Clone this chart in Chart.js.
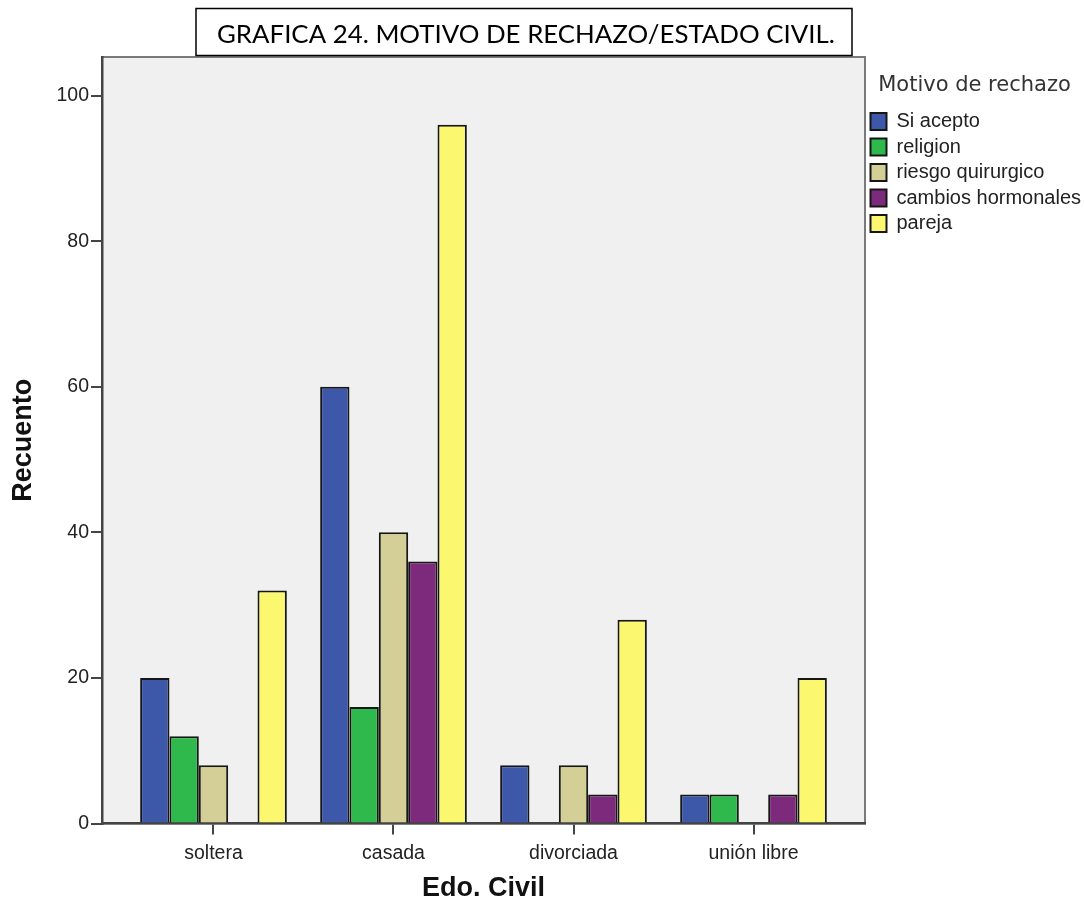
<!DOCTYPE html>
<html><head><meta charset="utf-8">
<script src="https://cdn.jsdelivr.net/npm/chart.js@4/dist/chart.umd.min.js"></script>
<style>html,body{margin:0;padding:0;background:#fff}#wrap{width:1084px;height:909px;position:relative}</style>
</head><body><div id="wrap"><canvas id="c"></canvas></div>
<script>
const categories = ['soltera', 'casada', 'divorciada', 'unión libre'];
const seriesNames = ['Si acepto', 'religion', 'riesgo quirurgico', 'cambios hormonales', 'pareja'];
const siAcepto = [20, 60, 8, 4];
const religion = [12, 16, 0, 4];
const riesgoQuirurgico = [8, 40, 8, 0];
const cambiosHormonales = [0, 36, 4, 4];
const pareja = [32, 96, 28, 20];
const yTickValues = [0, 20, 40, 60, 80, 100];
const chartTitle = 'GRAFICA 24. MOTIVO DE RECHAZO/ESTADO CIVIL.';
const xTitle = 'Edo. Civil';
const yTitle = 'Recuento';
const legendTitle = 'Motivo de rechazo';

const seriesValues = [siAcepto, religion, riesgoQuirurgico, cambiosHormonales, pareja];
const seriesColors = ['#3d58a8', '#2fb84b', '#d3cf97', '#7d2a7d', '#fbf76e'];

Chart.defaults.font.family = "'Liberation Sans', Arial, sans-serif";
Chart.defaults.color = '#222';

const plotBg = {
  id: 'plotBg',
  beforeDraw(chart) {
    const {ctx, chartArea: a} = chart;
    ctx.save();
    ctx.fillStyle = '#f0f0f0';
    ctx.fillRect(a.left, a.top, a.right - a.left, a.bottom - a.top);
    ctx.strokeStyle = '#7a7a7a';
    ctx.lineWidth = 2;
    ctx.strokeRect(a.left, a.top, a.right - a.left, a.bottom - a.top);
    ctx.restore();
  }
};

const titleBox = {
  id: 'titleBox',
  afterDraw(chart) {
    const ctx = chart.ctx;
    ctx.save();
    ctx.fillStyle = '#fff';
    ctx.fillRect(196, 8.5, 656, 47);
    ctx.strokeStyle = '#000';
    ctx.lineWidth = 1.5;
    ctx.strokeRect(196, 8.5, 656, 47);
    let size = 24;
    ctx.font = size + 'px Lato';
    const w = ctx.measureText(chartTitle).width;
    size = size * 618 / w;
    ctx.font = size + 'px Lato';
    ctx.fillStyle = '#000';
    ctx.textBaseline = 'middle';
    ctx.textAlign = 'left';
    ctx.fillText(chartTitle, 217, 35);
    ctx.restore();
  }
};

new Chart(document.getElementById('c'), {
  type: 'bar',
  data: {
    labels: categories.map((_, i) => i),
    datasets: seriesNames.map((name, k) => ({
      label: name,
      data: seriesValues[k],
      backgroundColor: seriesColors[k],
      borderColor: '#161616',
      borderWidth: 2,
      categoryPercentage: 0.815,
      barPercentage: 1
    }))
  },
  options: {
    responsive: true,
    maintainAspectRatio: false,
    devicePixelRatio: 1,
    animation: false,
    layout: {padding: {top: 57, left: 0, right: 0, bottom: 0}},
    plugins: {
      tooltip: {enabled: false},
      legend: {
        position: 'right',
        align: 'start',
        maxWidth: 219,
        title: {
          display: true,
          text: legendTitle,
          position: 'center',
          color: '#333',
          font: {family: "'DejaVu Sans'", size: 21},
          padding: {top: 18.5, bottom: 5.3}
        },
        labels: {
          boxWidth: 16,
          boxHeight: 17,
          padding: 5.5,
          color: '#222',
          font: {size: 20}
        }
      }
    },
    scales: {
      x: {
        type: 'linear',
        min: -0.6194,
        max: 3.6194,
        offset: false,
        afterFit: s => { s.height = 85.5; },
        afterBuildTicks: s => { s.ticks = categories.map((_, i) => ({value: i})); },
        grid: {drawOnChartArea: false, drawTicks: true, tickLength: 11, color: '#444', lineWidth: 2, offset: false},
        border: {display: true, color: '#444', width: 2.5},
        ticks: {
          padding: 7.5,
          font: {size: 19.5},
          color: '#222',
          maxRotation: 0,
          callback: v => categories[v]
        },
        title: {display: true, text: xTitle, font: {size: 27, weight: 'bold'}, color: '#111', padding: {top: 0, bottom: 4}}
      },
      y: {
        min: 0,
        max: 105.3,
        afterFit: s => { s.width = 102; },
        afterBuildTicks: s => { s.ticks = yTickValues.map(v => ({value: v})); },
        grid: {drawOnChartArea: false, drawTicks: true, tickLength: 11, color: '#444', lineWidth: 2},
        border: {display: true, color: '#444', width: 2.5},
        ticks: {padding: 2, font: {size: 19.5}, color: '#222'},
        title: {display: true, text: yTitle, font: {size: 27, weight: 'bold'}, color: '#111', padding: {top: 7, bottom: 0}}
      }
    }
  },
  plugins: [plotBg, titleBox]
});
</script>
</body></html>
